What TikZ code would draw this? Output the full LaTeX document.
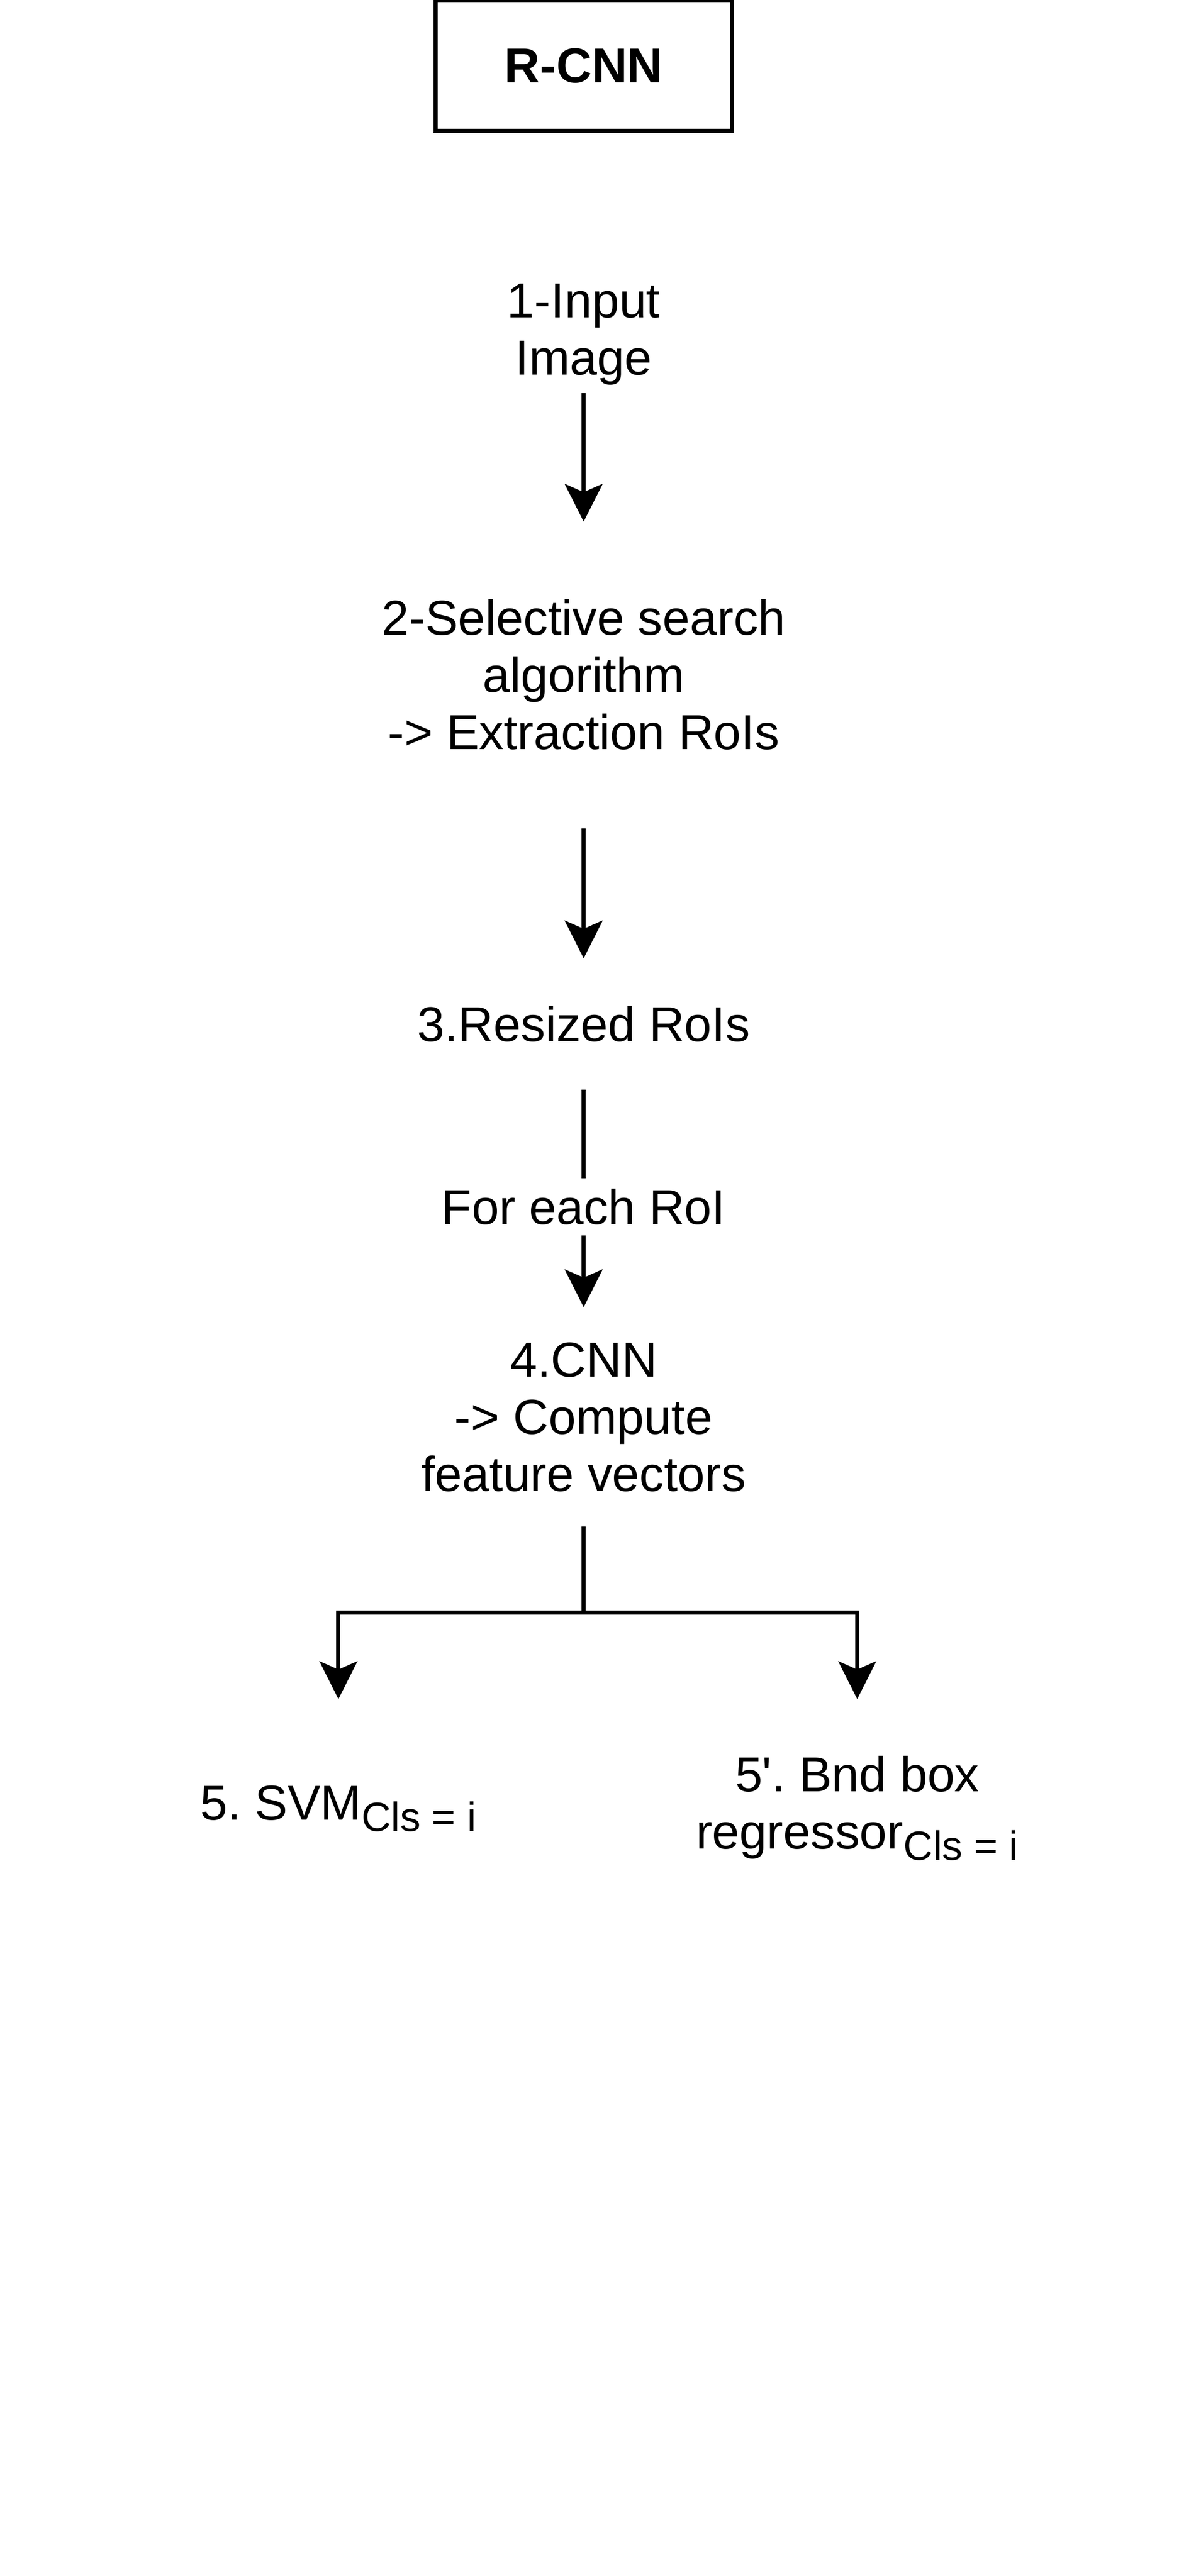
\documentclass[tikz,border=0pt]{standalone}
\usepackage{fontspec}
\setmainfont{Liberation Sans}
\usetikzlibrary{arrows.meta}
\frenchspacing
\newcommand{\ls}{\rule[-7pt]{0pt}{35pt}}
\newcommand{\clsi}{\raisebox{-7pt}{\fontsize{25}{28}\selectfont Cls = i}}

\begin{document}
\begin{tikzpicture}[x=1pt,y=-1pt,
  txt/.style={align=center,inner sep=0pt,font=\fontsize{30}{35}\selectfont},
  titlebox/.style={draw,line width=2.5pt,minimum width=181pt,minimum height=80pt,inner sep=0pt,font=\fontsize{30}{35}\selectfont\bfseries},
  arr/.style={line width=2.5pt,-{Stealth[length=23pt,width=23pt,inset=5pt]}}]
\useasboundingbox (0,0) rectangle (720,1574.4);
\node[titlebox] (rcnn) at (356.5,40) {\ls R-CNN};
\node[txt,minimum height=78pt] (input) at (356.5,201) {\ls 1-Input\\Image\ls};
\node[txt,minimum height=187.2pt] (search) at (356.5,412.6) {\ls 2-Selective search\\algorithm\\-> Extraction RoIs\ls};
\node[txt,minimum height=80pt] (resized) at (356.5,625.9) {\ls 3.Resized RoIs};
\node[txt,minimum height=133.8pt] (cnn) at (356.5,866) {\ls 4.CNN\\-> Compute\\feature vectors\ls};
\node[txt,minimum height=126.8pt] (svm) at (206.7,1102) {\ls 5. SVM\clsi};
\node[txt,minimum height=126.8pt] (bbox) at (523.6,1102) {\ls 5\textquotesingle. Bnd box\\regressor\clsi\ls};
\coordinate (fork) at (356.5,985.7);
\draw[arr] (input) -- (search);
\draw[arr] (search) -- (resized);
\draw[arr] (resized) -- node[txt,fill=white,pos=0.539] (each) {\ls For each RoI} (cnn);
\draw[line width=2.5pt] (cnn) -- (fork);
\draw[arr] (fork) -| (svm);
\draw[arr] (fork) -| (bbox);
\end{tikzpicture}
\end{document}
